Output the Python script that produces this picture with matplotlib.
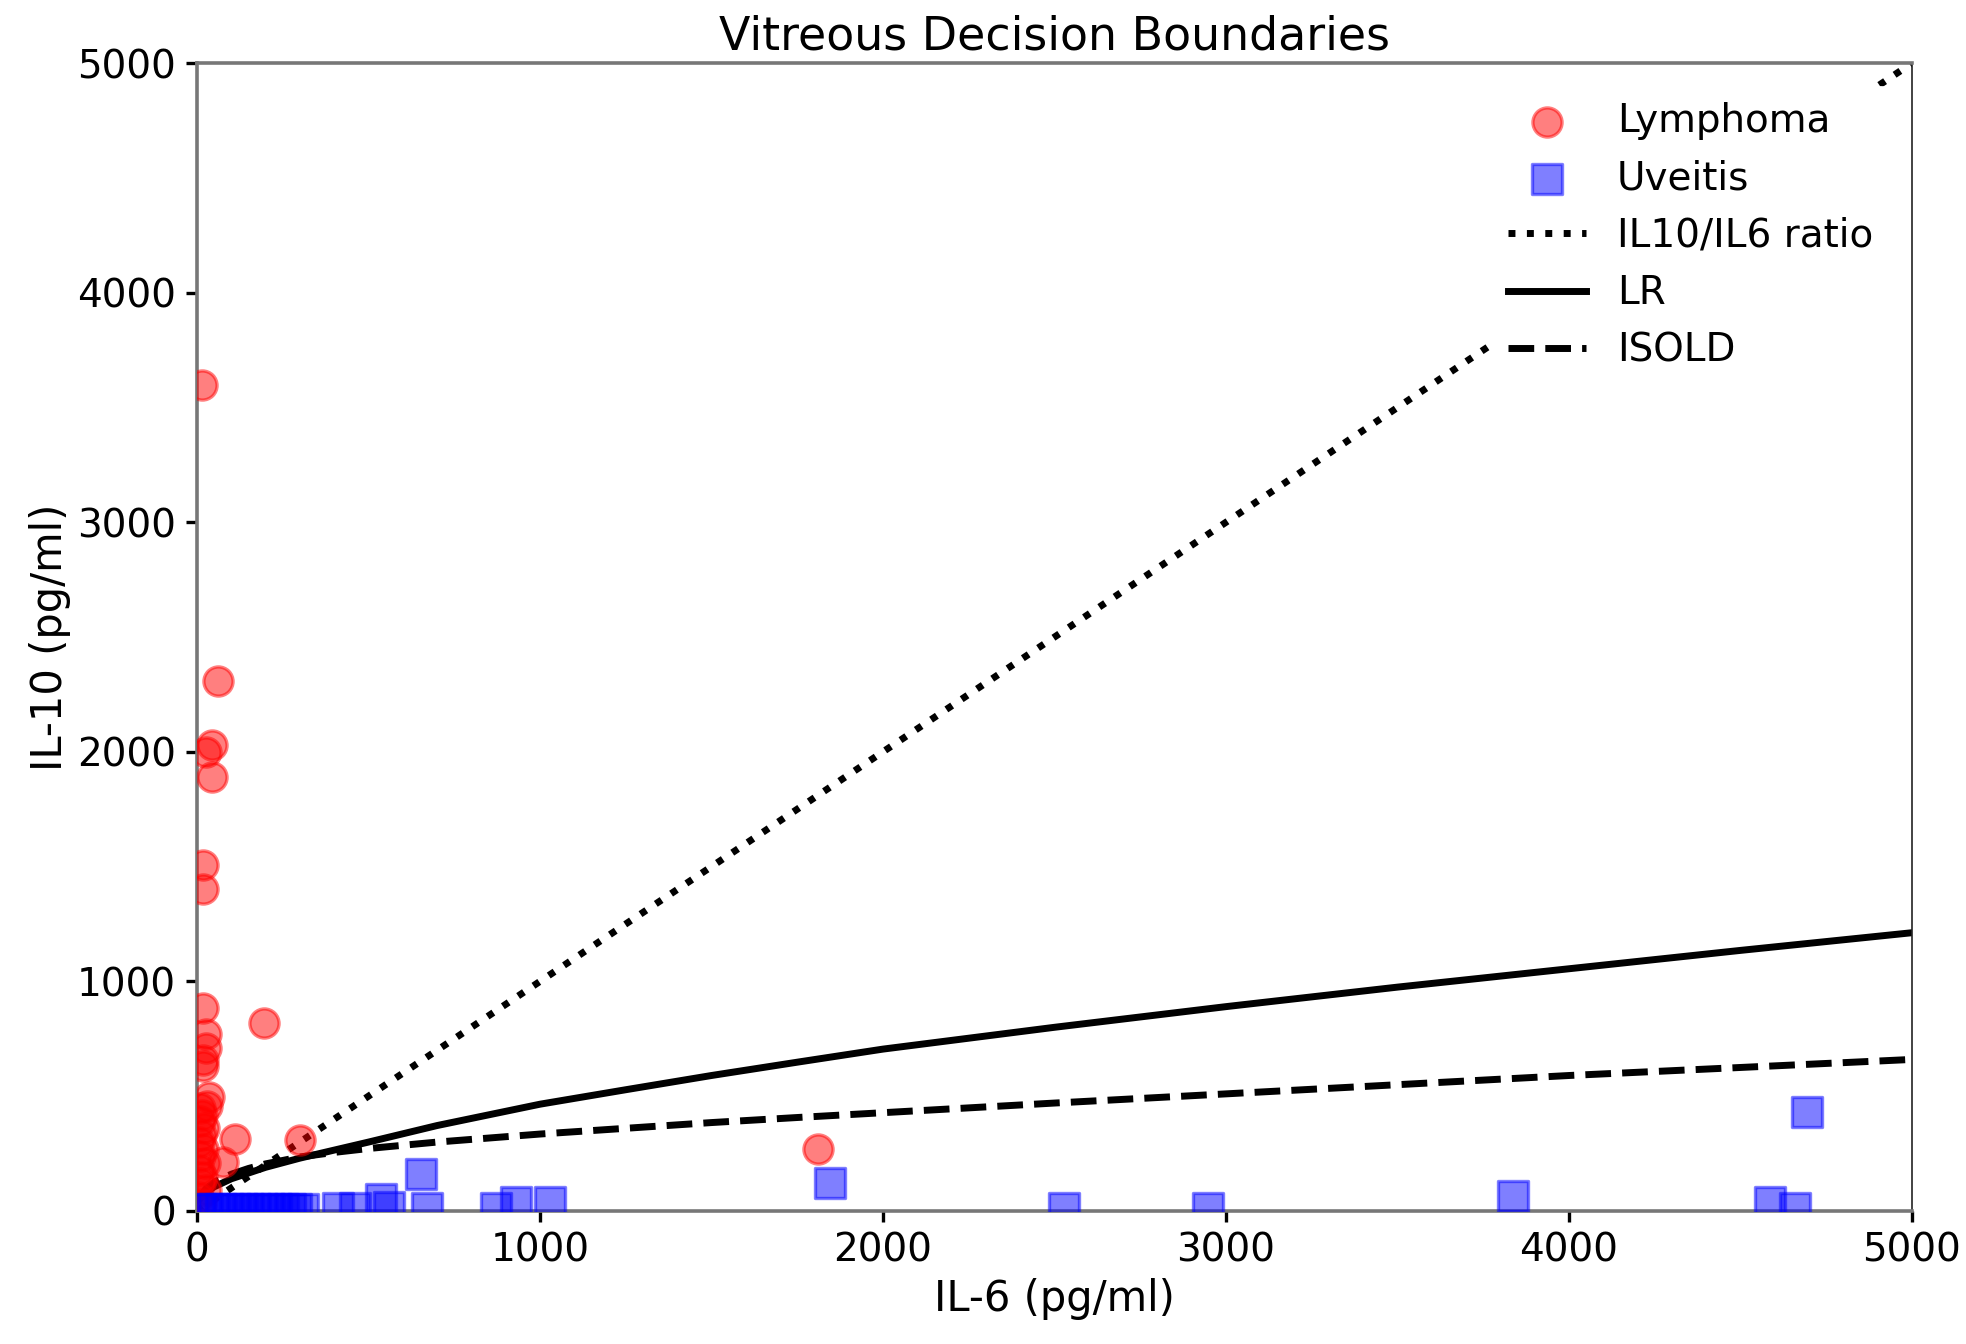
import numpy as np
import matplotlib.pyplot as plt

# Lymphoma samples (IL-6, IL-10) pg/ml
lymph_il6 = [15, 60, 43, 25, 43, 18, 18, 18, 195, 25, 25, 18, 18, 35, 30,
             111, 300, 76, 1810,
             10, 15, 8, 20, 12, 5, 18, 10, 22, 6, 14, 9, 25, 4, 12]
lymph_il10 = [3600, 2310, 2030, 2000, 1890, 1505, 1402, 882, 820, 770, 710, 657, 630, 495, 457,
              313, 310, 213, 272,
              450, 420, 390, 360, 330, 300, 270, 240, 210, 180, 150, 120, 90, 60, 30]

# Uveitis samples
uv_il6 = [4693, 3838, 1845, 652, 536, 670, 411, 460, 560, 872, 930, 1029, 2528, 2947, 4585, 4658,
          10, 30, 50, 70, 90, 110, 130, 150, 170, 190, 210, 230, 250, 270, 290, 310]
uv_il10 = [430, 63, 122, 160, 50, 12, 12, 14, 16, 12, 40, 40, 12, 12, 38, 12,
           10, 8, 10, 8, 10, 8, 10, 8, 10, 8, 10, 8, 10, 8, 10, 10]

# decision boundaries
ratio_x = [0, 5000]
ratio_y = [0, 5000]

lr_x = [10, 25, 50, 100, 150, 200, 300, 400, 500, 700, 1000, 1250, 1500, 1750,
        2000, 2500, 3000, 3500, 4000, 4500, 5000]
lr_y = [55, 80, 105, 140, 165, 190, 230, 265, 300, 372, 465, 528, 590, 648,
        705, 800, 890, 975, 1055, 1135, 1212]

isold_x = [10, 25, 50, 100, 150, 200, 300, 400, 500, 700, 1000, 1250, 1500, 1750,
           2000, 2500, 3000, 3500, 4000, 4500, 5000]
isold_y = [60, 95, 125, 160, 185, 205, 235, 255, 272, 300, 335, 360, 385, 407,
           428, 470, 510, 550, 590, 625, 660]

fig = plt.figure(figsize=(9.83, 6.72), dpi=200)
ax = fig.add_axes([0.1002, 0.099, 0.8723, 0.854])

ax.scatter(lymph_il6, lymph_il10, s=110, marker='o', c='red', edgecolors='red',
           linewidths=1.2, alpha=0.5, label='Lymphoma', zorder=3)
ax.scatter(uv_il6, uv_il10, s=110, marker='s', c='blue', edgecolors='blue',
           linewidths=1.2, alpha=0.5, label='Uveitis', zorder=3)
ax.plot(ratio_x, ratio_y, 'k:', lw=2.5, label='IL10/IL6 ratio', zorder=2)
ax.plot(lr_x, lr_y, 'k-', lw=2.5, label='LR', zorder=2)
ax.plot(isold_x, isold_y, 'k--', lw=2.5, label='ISOLD', zorder=2)

ax.set_xlim(0, 5000)
ax.set_ylim(0, 5000)
ax.set_xticks([0, 1000, 2000, 3000, 4000, 5000])
ax.set_yticks([0, 1000, 2000, 3000, 4000, 5000])
ax.tick_params(direction='out', length=4, width=1.2, labelsize=14, top=False, right=False)

for side in ['left', 'bottom', 'top']:
    ax.spines[side].set_color('#777777')
    ax.spines[side].set_linewidth(1.3)
ax.spines['right'].set_color('#222222')
ax.spines['right'].set_linewidth(0.6)

ax.set_title('Vitreous Decision Boundaries', fontsize=16.5, pad=5)
ax.set_xlabel('IL-6 (pg/ml)', fontsize=15, labelpad=3)
ax.set_ylabel('IL-10 (pg/ml)', fontsize=15, labelpad=2)

leg = ax.legend(loc='upper right', fontsize=14, framealpha=1, edgecolor='white',
                handlelength=2, borderaxespad=0.6)
leg.set_zorder(5)

fig.savefig('out.png', dpi=200)
